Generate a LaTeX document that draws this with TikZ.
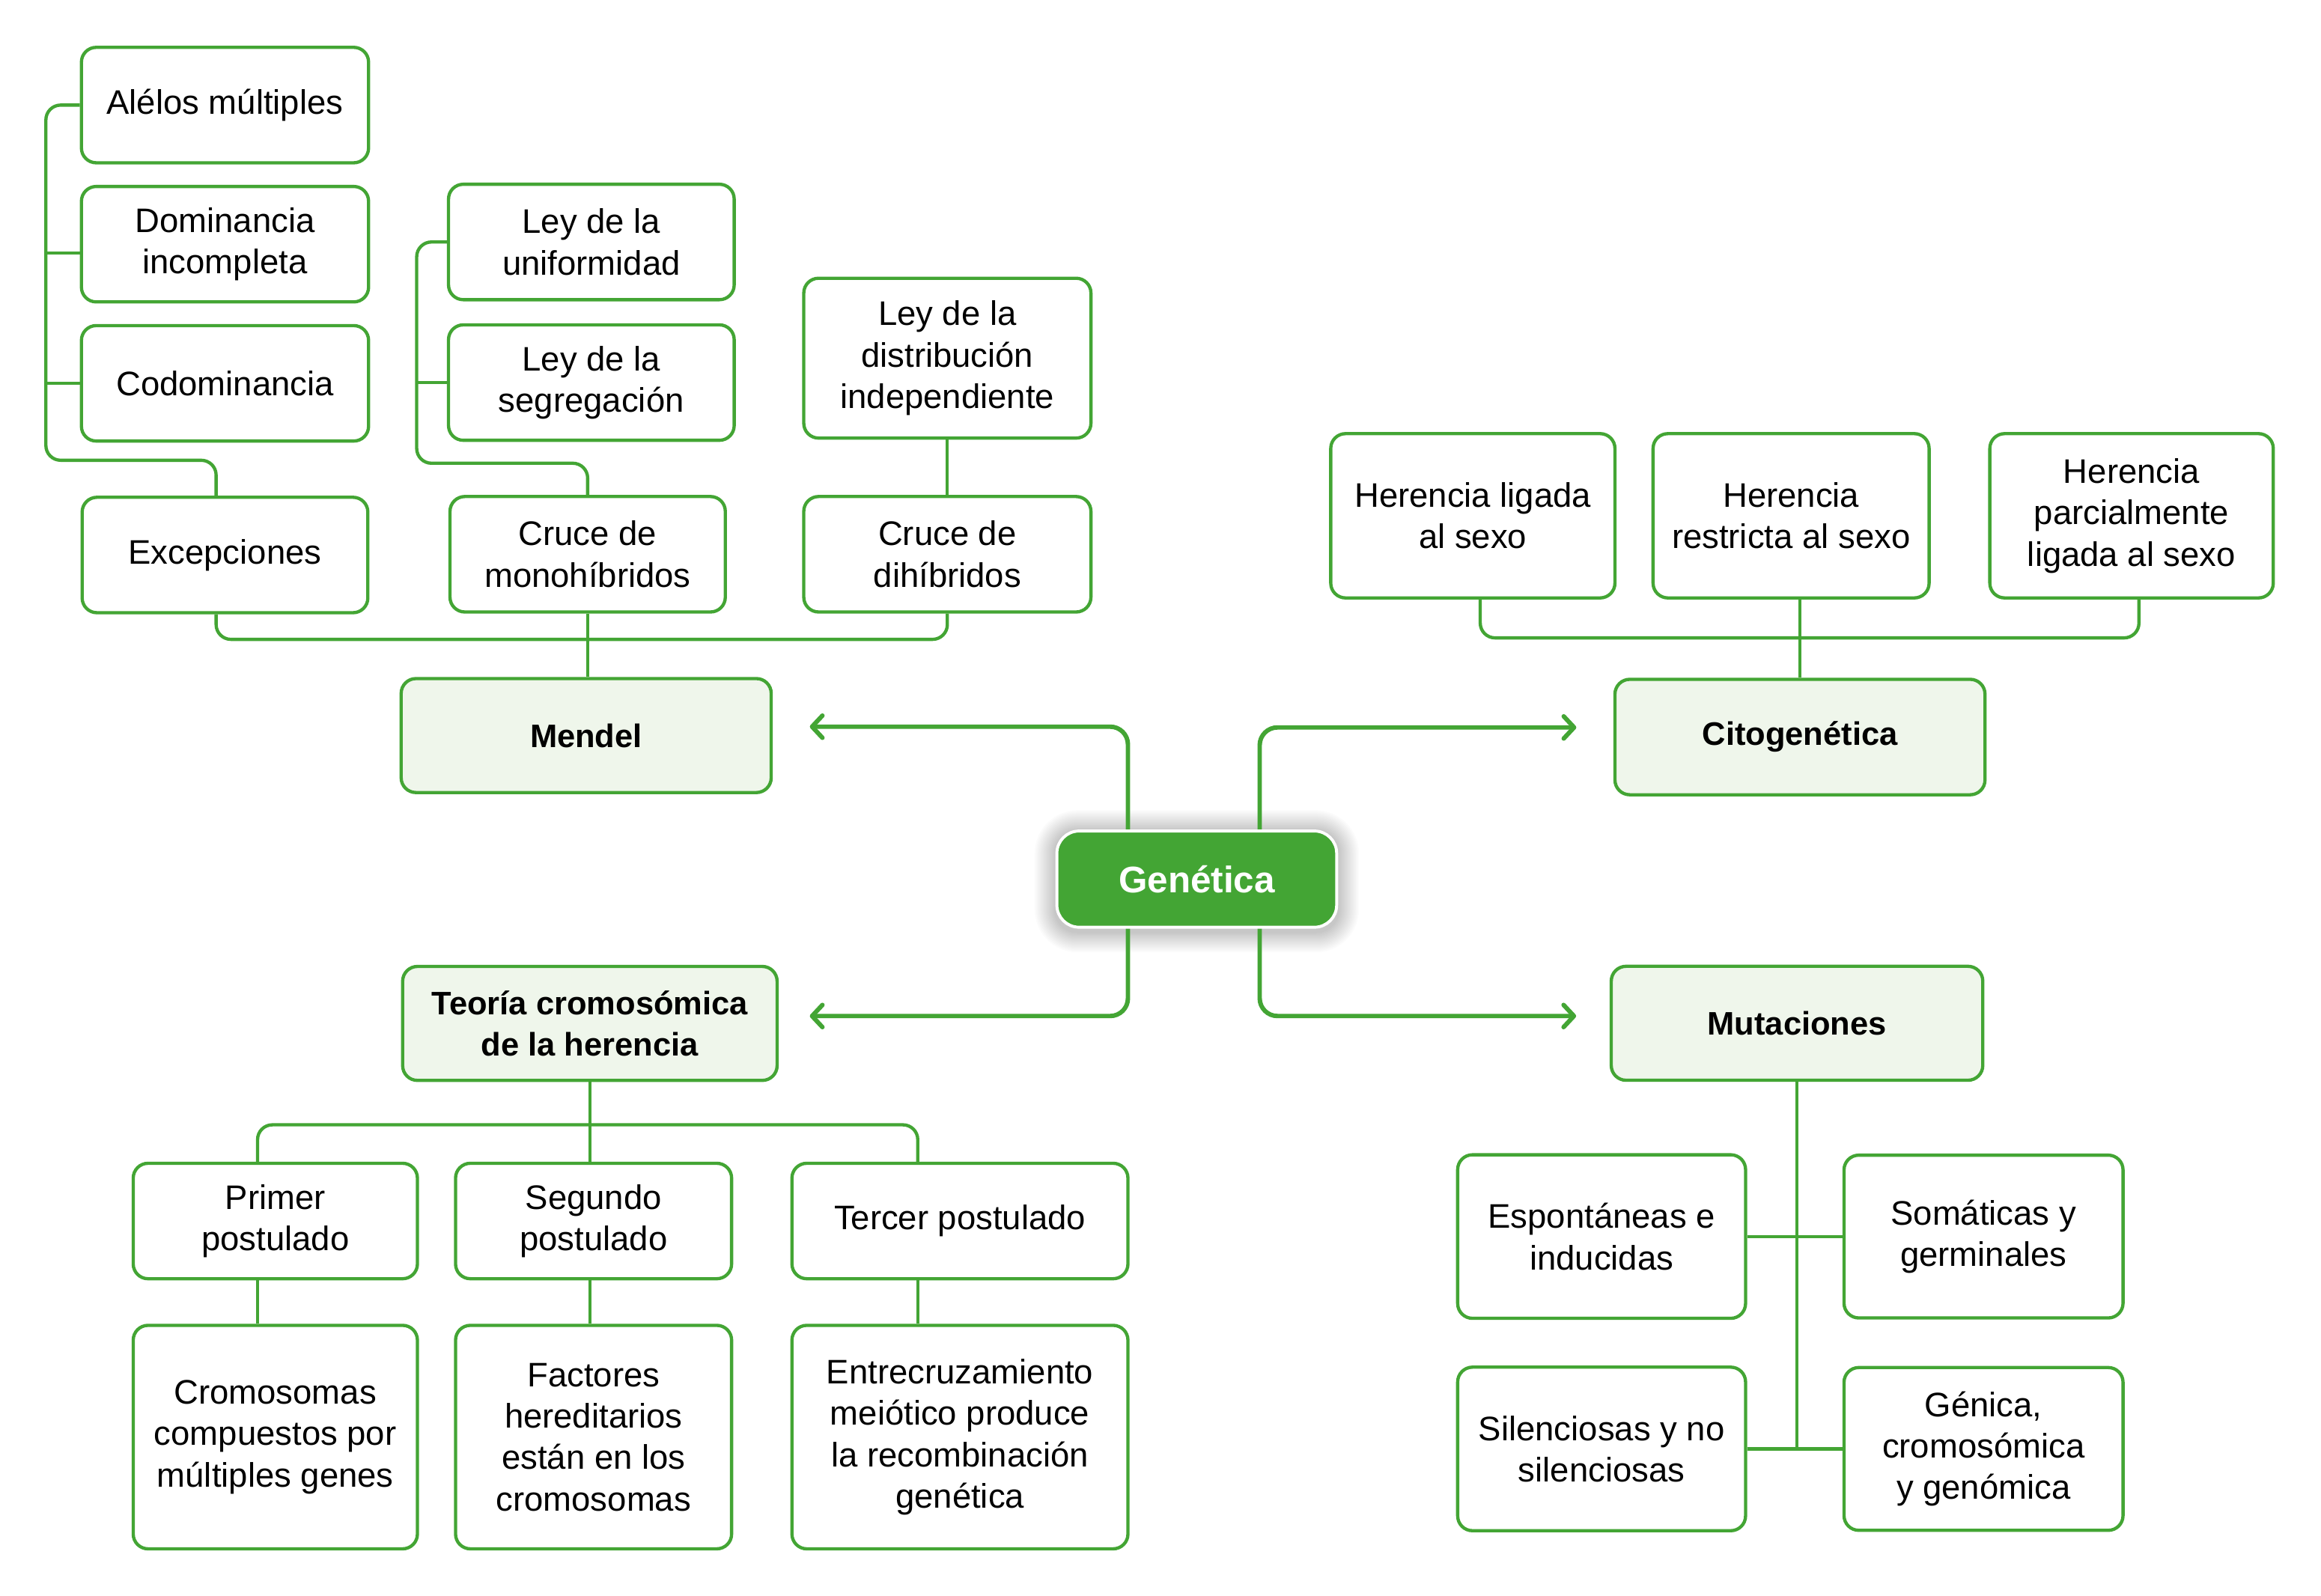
\documentclass[tikz,border=0pt]{standalone}
\usepackage{fontspec}
\setmainfont{Liberation Sans}
\usetikzlibrary{arrows.meta,backgrounds}
\definecolor{gr}{RGB}{67,165,52}
\definecolor{pale}{RGB}{239,246,235}

\begin{document}
\begin{tikzpicture}[x=1pt,y=-1pt,
  box/.style={draw=gr, line width=2.2pt, rounded corners=10pt, fill=white,
    align=center, inner sep=0pt, text=black, font=\fontsize{23}{28}\selectfont},
  head/.style={box, fill=pale, font=\fontsize{22}{28}\selectfont\bfseries},
  conn/.style={draw=gr, line width=2.2pt, rounded corners=10pt},
  arr/.style={draw=gr, line width=3pt, rounded corners=12pt, line cap=round,
    -{Straight Barb[length=7pt,width=15pt,round]}},
]
\useasboundingbox (0,0) rectangle (1568,1078);

% ---------- Mendel branch ----------
\node[box, minimum width=194pt, minimum height=78pt] (alelos) at (152,71) {Alélos múltiples};
\node[box, minimum width=194pt, minimum height=78pt] (dom) at (152,165) {Dominancia\\incompleta};
\node[box, minimum width=194pt, minimum height=78pt] (codom) at (152,259) {Codominancia};
\node[box, minimum width=193pt, minimum height=78pt] (exc) at (152,375) {Excepciones};
\node[box, minimum width=193pt, minimum height=78pt] (unif) at (399.5,163.5) {Ley de la\\uniformidad};
\node[box, minimum width=193pt, minimum height=78pt] (segr) at (399.5,258.5) {Ley de la\\segregación};
\node[box, minimum width=186pt, minimum height=78pt] (mono) at (397,374.5) {Cruce de\\monohíbridos};
\node[box, minimum width=194pt, minimum height=108pt] (dist) at (640,242) {Ley de la\\distribución\\independiente};
\node[box, minimum width=194pt, minimum height=78pt] (dihib) at (640,374.5) {Cruce de\\dihíbridos};
\node[head, minimum width=250pt, minimum height=77pt] (mendel) at (396,497) {Mendel};

% ---------- central node ----------
\node[fill=gr, draw=white, line width=2pt, rounded corners=15pt,
  minimum width=189pt, minimum height=65pt, inner sep=0pt,
  text=white, font=\fontsize{25}{30}\selectfont\bfseries]
  (gen) at (808.5,594) {Genética};

% ---------- Citogenética branch ----------
\node[head, minimum width=250pt, minimum height=78pt] (cito) at (1216,498) {Citogenética};
\node[box, minimum width=192pt, minimum height=111pt] (hlig) at (995,348.5) {Herencia ligada\\al sexo};
\node[box, minimum width=186.5pt, minimum height=111pt] (hres) at (1210,348.5) {Herencia\\restricta al sexo};
\node[box, minimum width=191.5pt, minimum height=111pt] (hpar) at (1440,348.5) {Herencia\\parcialmente\\ligada al sexo};

% ---------- Teoría cromosómica branch ----------
\node[head, minimum width=253pt, minimum height=77pt] (teo) at (398.5,691.5) {Teoría cromosómica\\de la herencia};
\node[box, minimum width=192pt, minimum height=78pt] (prim) at (186,825) {Primer\\postulado};
\node[box, minimum width=186.5pt, minimum height=78pt] (seg) at (401,825) {Segundo\\postulado};
\node[box, minimum width=227pt, minimum height=78pt] (ter) at (648.5,825) {Tercer postulado};
\node[box, minimum width=192pt, minimum height=151pt] (crom) at (186,971) {Cromosomas\\compuestos por\\múltiples genes};
\node[box, minimum width=186.5pt, minimum height=151pt] (fact) at (401,971) {Factores\\hereditarios\\están en los\\cromosomas};
\node[box, minimum width=227pt, minimum height=151pt] (entr) at (648.5,971) {Entrecruzamiento\\meiótico produce\\la recombinación\\genética};

% ---------- Mutaciones branch ----------
\node[head, minimum width=251pt, minimum height=77pt] (mut) at (1214,691.4) {Mutaciones};
\node[box, minimum width=194.5pt, minimum height=110.5pt] (esp) at (1082,835.5) {Espontáneas e\\inducidas};
\node[box, minimum width=188.5pt, minimum height=110pt] (som) at (1340,835.5) {Somáticas y\\germinales};
\node[box, minimum width=194.5pt, minimum height=110.5pt] (sil) at (1082,979) {Silenciosas y no\\silenciosas};
\node[box, minimum width=188.5pt, minimum height=110pt] (genica) at (1340,979) {Génica,\\cromosómica\\y genómica};

% bus corner points
\coordinate (lbus) at (31,311);
\coordinate (lbus2) at (281.5,313);
\coordinate (mbus) at (396,432);
\coordinate (cbus) at (1215,431);
\coordinate (tbus) at (398,760);

\begin{scope}[on background layer]
  \fill[white] (0,0) rectangle (1568,1078);

  % soft glow around the central node
  \foreach \i in {1,...,14}{
    \fill[black, opacity=0.014, rounded corners={15pt+\i pt}]
      ([xshift=-\i pt, yshift=\i pt-1pt]gen.north west) rectangle
      ([xshift=\i pt, yshift=-\i pt-2pt]gen.south east);
  }

  % Mendel tree
  \draw[conn] (alelos.west) -| (lbus) -| ([xshift=-6pt]exc.north);
  \draw[conn] ([yshift=-6pt]dom.west) -- ++(-24,0);
  \draw[conn] (codom.west) -- ++(-24,0);
  \draw[conn] (unif.west) -| (lbus2) -| (mono.north);
  \draw[conn] (segr.west) -- ++(-21,0);
  \draw[conn] (dist.south) -- (dihib.north);
  \draw[conn] ([xshift=-6pt]exc.south) |- (mbus) -| (dihib.south);
  \draw[conn] (mono.south) -- (mono.south |- mendel.north);

  % Citogenética tree
  \draw[conn] ([xshift=5pt]hlig.south) |- (cbus) -| ([xshift=5pt]hpar.south);
  \draw[conn] (cito.north |- hres.south) -- (cito.north);

  % Teoría tree
  \draw[conn] ([xshift=-12pt]prim.north) |- (tbus) -| ([xshift=-28.5pt]ter.north);
  \draw[conn] (teo.south) -- (teo.south |- seg.north);
  \draw[conn] ([xshift=-12pt]prim.south) -- ([xshift=-12pt]crom.north);
  \draw[conn] (teo.south |- seg.south) -- (teo.south |- fact.north);
  \draw[conn] ([xshift=-28.5pt]ter.south) -- ([xshift=-28.5pt]entr.north);

  % Mutaciones tree
  \draw[conn] (mut.south) -- (mut.south |- sil.east);
  \draw[conn] (esp.east) -- (som.west);
  \draw[conn] (sil.east) -- (genica.west);

  % arrows from the central node
  \draw[arr] ([xshift=-46.5pt]gen.north) |- ([xshift=25pt,yshift=6pt]mendel.east);
  \draw[arr] ([xshift=42.5pt]gen.north) |- ([xshift=-25pt,yshift=6.5pt]cito.west);
  \draw[arr] ([xshift=-46.5pt]gen.south) |- ([xshift=21pt,yshift=5pt]teo.east);
  \draw[arr] ([xshift=42.5pt]gen.south) |- ([xshift=-22.6pt,yshift=4.9pt]mut.west);
\end{scope}
\end{tikzpicture}
\end{document}
